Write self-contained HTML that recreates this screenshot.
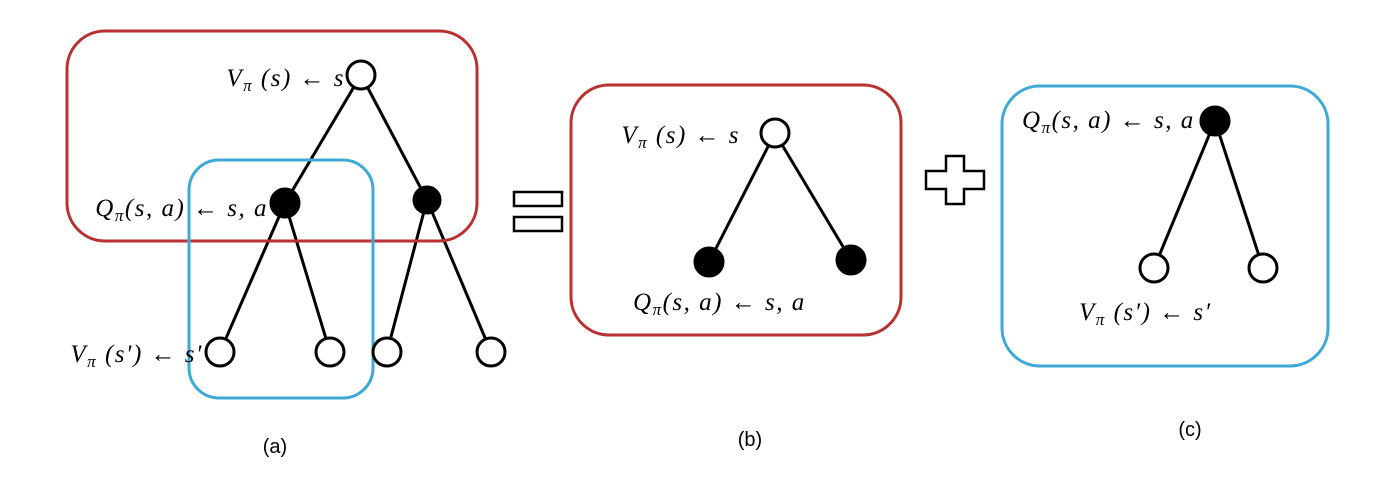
<!DOCTYPE html>
<html><head><meta charset="utf-8"><style>body{margin:0;background:#fff}svg{display:block}
.m{font-family:"Liberation Serif",serif;font-style:italic;font-size:25px;letter-spacing:1.5px;fill:#000}
.c{font-family:"Liberation Sans",sans-serif;font-size:20px;fill:#000}</style></head><body>
<svg width="1390" height="490" viewBox="0 0 1390 490" xmlns="http://www.w3.org/2000/svg">
<g stroke="#000" stroke-width="3" fill="none">
<line x1="361" y1="75" x2="285" y2="203"/><line x1="361" y1="75" x2="427" y2="200"/>
<line x1="285" y1="203" x2="220" y2="352"/><line x1="285" y1="203" x2="330" y2="352"/>
<line x1="427" y1="200" x2="387" y2="352"/><line x1="427" y1="200" x2="491" y2="352"/>
<line x1="775" y1="133" x2="709" y2="262"/><line x1="775" y1="133" x2="851" y2="260"/>
<line x1="1215" y1="121" x2="1154" y2="268"/><line x1="1215" y1="121" x2="1263" y2="268"/>
</g>
<rect x="67" y="31" width="410" height="210" rx="38" fill="none" stroke="#b83232" stroke-width="3"/>
<rect x="189" y="160" width="184" height="238" rx="30" fill="none" stroke="#3fa9d6" stroke-width="3"/>
<rect x="571" y="85" width="330" height="250" rx="38" fill="none" stroke="#b83232" stroke-width="3"/>
<rect x="1002" y="86" width="326" height="280" rx="38" fill="none" stroke="#3fa9d6" stroke-width="3"/>
<g stroke="#000" stroke-width="3">
<circle cx="361" cy="75" r="14" fill="#fff"/>
<circle cx="285" cy="203" r="14" fill="#000"/><circle cx="427" cy="200" r="13" fill="#000"/>
<circle cx="220" cy="352" r="14" fill="#fff"/><circle cx="330" cy="352" r="14" fill="#fff"/>
<circle cx="387" cy="352" r="14" fill="#fff"/><circle cx="491" cy="352" r="14" fill="#fff"/>
<circle cx="775" cy="133" r="14" fill="#fff"/>
<circle cx="709" cy="262" r="14" fill="#000"/><circle cx="851" cy="260" r="14" fill="#000"/>
<circle cx="1215" cy="121" r="14" fill="#000"/>
<circle cx="1154" cy="268" r="14" fill="#fff"/><circle cx="1263" cy="268" r="14" fill="#fff"/>
</g>
<g fill="#fff" stroke="#000" stroke-width="2.5">
<rect x="514" y="192" width="48" height="14"/><rect x="514" y="217" width="48" height="14"/>
<path d="M946 156 H964 V171 H984 V189 H964 V204 H946 V189 H926 V171 H946 Z"/>
</g>
<text class="m" x="345" y="86" text-anchor="end">V<tspan font-size="17" dy="5">π</tspan><tspan dy="-5"> (s) ← s</tspan></text>
<text class="m" x="268" y="216" text-anchor="end">Q<tspan font-size="17" dy="5">π</tspan><tspan dy="-5">(s, a) ← s, a</tspan></text>
<text class="m" x="203" y="362" text-anchor="end">V<tspan font-size="17" dy="5">π</tspan><tspan dy="-5"> (s′) ← s′</tspan></text>
<text class="m" x="740" y="143" text-anchor="end">V<tspan font-size="17" dy="5">π</tspan><tspan dy="-5"> (s) ← s</tspan></text>
<text class="m" x="633" y="310">Q<tspan font-size="17" dy="5">π</tspan><tspan dy="-5">(s, a) ← s, a</tspan></text>
<text class="m" x="1022" y="128">Q<tspan font-size="17" dy="5">π</tspan><tspan dy="-5">(s, a) ← s, a</tspan></text>
<text class="m" x="1079" y="320">V<tspan font-size="17" dy="5">π</tspan><tspan dy="-5"> (s′) ← s′</tspan></text>
<text class="c" x="275" y="453" text-anchor="middle">(a)</text>
<text class="c" x="750" y="446" text-anchor="middle">(b)</text>
<text class="c" x="1190" y="436" text-anchor="middle">(c)</text>
</svg>
</body></html>
